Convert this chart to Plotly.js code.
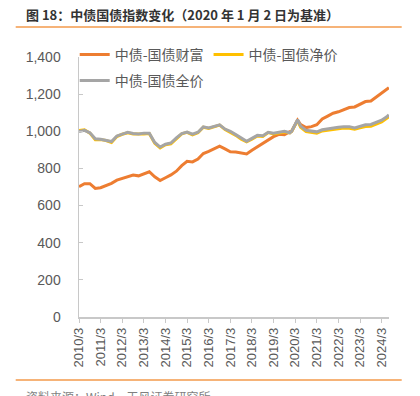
<!DOCTYPE html>
<html>
<head>
<meta charset="utf-8">
<script src="https://cdn.plot.ly/plotly-3.0.1.min.js"></script>
<style>html,body{margin:0;padding:0;background:#fff;}#chart{width:420px;height:396px;}</style>
</head>
<body>
<div id="chart"></div>
<script>
// Dates
var dates = [
 "2010-03-01","2010-06-01","2010-09-01","2010-12-01",
 "2011-03-01","2011-06-01","2011-09-01","2011-12-01",
 "2012-03-01","2012-06-01","2012-09-01","2012-12-01",
 "2013-03-01","2013-06-01","2013-09-01","2013-12-01",
 "2014-03-01","2014-06-01","2014-09-01","2014-12-01",
 "2015-03-01","2015-06-01","2015-09-01","2015-12-01",
 "2016-03-01","2016-06-01","2016-09-01","2016-12-01",
 "2017-03-01","2017-06-01","2017-09-01","2017-12-01",
 "2018-03-01","2018-06-01","2018-09-01","2018-12-01",
 "2019-03-01","2019-06-01","2019-09-01","2019-12-01",
 "2020-01-02","2020-04-10","2020-06-01","2020-09-01","2020-12-01",
 "2021-03-01","2021-06-01","2021-09-01","2021-12-01",
 "2022-03-01","2022-06-01","2022-09-01","2022-12-01",
 "2023-03-01","2023-06-01","2023-09-01","2023-12-01",
 "2024-03-01","2024-06-01","2024-07-01"
];
// 中债-国债财富
var wealth = [
 701,718,718,692, 696,706,720,737, 746,752,764,760, 770,782,755,735,
 750,765,785,815, 838,835,850,880, 892,906,920,905, 890,888,884,878,
 898,916,932,950, 971,984,982,998,
 1000,1060,1036,1020,1025, 1035,1066,1082,1097, 1105,1117,1128,1131,
 1145,1160,1163,1185, 1205,1228,1235
];
// 中债-国债净价
var netPrice = [
 1004,1008,990,955, 955,950,940,972, 984,992,986,984, 986,988,935,910,
 928,933,962,986, 994,981,992,1022, 1015,1024,1033,1010, 996,978,958,943,
 958,975,972,993, 986,991,996,991,
 1000,1058,1022,998,994, 990,1002,1006,1010, 1014,1017,1016,1011,
 1019,1026,1027,1040, 1050,1071,1078
];
// 中债-国债全价
var fullPrice = [
 998,1005,992,960, 957,950,945,975, 985,995,988,985, 990,990,940,915,
 930,937,965,988, 996,985,995,1024, 1018,1027,1035,1012, 1000,982,962,946,
 962,978,976,995, 990,995,1000,992,
 1000,1062,1028,1005,1000, 997,1008,1014,1016, 1022,1025,1025,1018,
 1028,1035,1037,1048, 1060,1080,1088
];
var tickVals = ["2010-03-01","2011-03-01","2012-03-01","2013-03-01","2014-03-01","2015-03-01","2016-03-01","2017-03-01","2018-03-01","2019-03-01","2020-03-01","2021-03-01","2022-03-01","2023-03-01","2024-03-01"];
var tickText = ["2010/3","2011/3","2012/3","2013/3","2014/3","2015/3","2016/3","2017/3","2018/3","2019/3","2020/3","2021/3","2022/3","2023/3","2024/3"];
var yTicks = [0,200,400,600,800,1000,1200,1400];

var FONT = "Liberation Sans, Arial, Noto Sans CJK SC, sans-serif";
var traces = [
 {x:dates, y:wealth, name:"中债-国债财富", type:"scatter", mode:"lines", line:{color:"#ED7D31", width:3}, legend:"legend"},
 {x:dates, y:netPrice, name:"中债-国债净价", type:"scatter", mode:"lines", line:{color:"#FFC000", width:3}, legend:"legend"},
 {x:dates, y:fullPrice, name:"中债-国债全价", type:"scatter", mode:"lines", line:{color:"#A5A5A5", width:3}, legend:"legend2"}
];
var W = 310, H = 260, L = 79.3, T = 57;
function px(x){return (x-L)/W;}
function py(y){return (T+H-y)/H;}
var layout = {
 width:420, height:396,
 margin:{l:79, r:31, t:57, b:79},
 paper_bgcolor:"#fff", plot_bgcolor:"#fff",
 font:{family:FONT, color:"#595959", size:13},
 showlegend:true,
 legend:{orientation:"h", x:px(75), y:py(55), xanchor:"left", yanchor:"middle", bgcolor:"rgba(0,0,0,0)", font:{size:14, color:"#595959", family:"Noto Sans CJK SC, sans-serif"}, itemwidth:30},
 legend2:{orientation:"h", x:px(75), y:py(81), xanchor:"left", yanchor:"middle", bgcolor:"rgba(0,0,0,0)", font:{size:14, color:"#595959", family:"Noto Sans CJK SC, sans-serif"}, itemwidth:30},
 xaxis:{type:"date", range:["2010-03-01","2024-07-03"], tickvals:tickVals, ticktext:tickText, tickangle:-90,
   showgrid:false, zeroline:false, showline:true, linecolor:"#C8C8C8", linewidth:1.5,
   ticks:"outside", ticklen:4, tickcolor:"#C8C8C8", tickfont:{size:13, color:"#595959"}},
 yaxis:{range:[0,1400], tickvals:yTicks, tickformat:",", showgrid:false, zeroline:false, showline:true,
   linecolor:"#C8C8C8", linewidth:1.5, ticks:"inside", ticklen:4, tickcolor:"#C8C8C8",
   tickfont:{size:14, color:"#595959"}, ticklabelstandoff:14},
 shapes:[
  {type:"line", xref:"paper", yref:"paper", x0:px(16), x1:px(402), y0:py(27), y1:py(27), line:{color:"#F39A4B", width:1.5}},
  {type:"line", xref:"paper", yref:"paper", x0:px(16), x1:px(402), y0:py(380), y1:py(380), line:{color:"#F39A4B", width:1.5}}
 ],
 annotations:[
  {text:"<b>图 18：中债国债指数变化（2020 年 1 月 2 日为基准）</b>", xref:"paper", yref:"paper", x:px(24), y:py(15), xanchor:"left", yanchor:"middle", showarrow:false, font:{size:13, color:"#333333", family:"Noto Sans CJK SC, sans-serif"}},
  {text:"资料来源：Wind，天风证券研究所", xref:"paper", yref:"paper", x:px(24), y:py(386), xanchor:"left", yanchor:"top", showarrow:false, font:{size:12, color:"#7F7F7F", family:"Noto Sans CJK SC, sans-serif"}}
 ]
};
Plotly.newPlot("chart", traces, layout, {displayModeBar:false, staticPlot:true});
</script>
</body>
</html>
